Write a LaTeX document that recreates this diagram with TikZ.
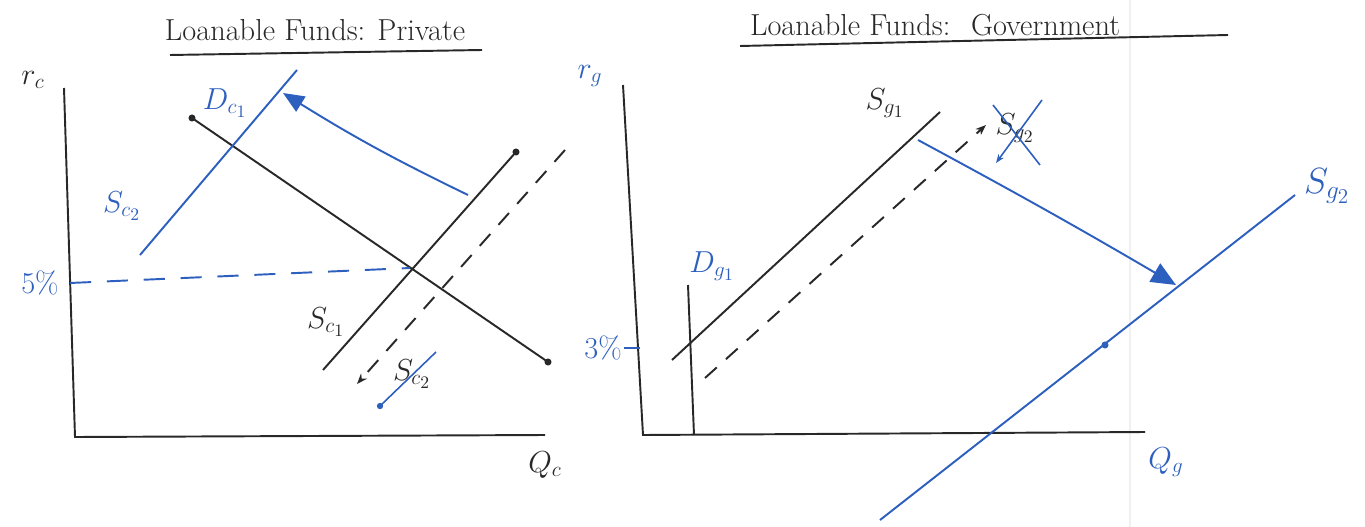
\documentclass[tikz,border=0pt]{standalone}
\usetikzlibrary{arrows.meta}
\definecolor{pen}{RGB}{45,95,190}
\definecolor{ink}{RGB}{40,40,40}
\begin{document}
\begin{tikzpicture}[x=0.02cm,y=-0.02cm,
  blk/.style={draw=ink,line width=1.1pt},
  blu/.style={draw=pen,line width=1.1pt},
  dsh/.style={draw=ink,line width=1.1pt,dash pattern=on 9pt off 7pt},
  lab/.style={inner sep=1pt,font=\LARGE},
  blab/.style={inner sep=1pt,font=\LARGE,text=pen},
  ttl/.style={inner sep=1pt,font=\LARGE,text=ink}]
\useasboundingbox (0,0) rectangle (1365,527);
\fill[white] (0,0) rectangle (1365,527);
\draw[black!6,line width=0.6pt] (1130,0) -- (1130,527);
% ---------- left ----------
\node[ttl] (t1) at (315,30) {Loanable Funds: Private};
\coordinate (u1a) at (170,55); \coordinate (u1b) at (482,50);
\draw[blk] (u1a) -- (u1b);
\node[lab,text=ink] (rc) at (33,80) {$r_c$};
\coordinate (ya) at (64,88); \coordinate (o1) at (75,437); \coordinate (xa) at (545,435);
\draw[blk] (ya) -- (o1) -- (xa);
\node[lab,text=ink] (qc) at (545,465) {$Q_c$};
\coordinate (d1a) at (192,118); \coordinate (d1b) at (548,362);
\draw[blk] (d1a) -- (d1b);
\fill[ink] (d1a) circle (2pt); \fill[ink] (d1b) circle (2pt);
\coordinate (s2a) at (140,255); \coordinate (s2b) at (297,70);
\draw[blu] (s2a) -- (s2b);
\node[blab] (ls2) at (122,206) {$S_{c_2}$};
\node[blab] (ld1) at (225,103) {$D_{c_1}$};
\coordinate (ar1a) at (468,195); \coordinate (ar1b) at (283,93);
\draw[blu,-{Triangle[length=12pt,width=10pt]}] (ar1a) to[bend left=3] (ar1b);
\node[blab] (p5) at (40,283) {5\%};
\coordinate (h5a) at (70,283); \coordinate (h5b) at (410,268);
\draw[blu,dash pattern=on 12pt off 9pt] (h5a) -- (h5b);
\coordinate (s1a) at (323,370); \coordinate (s1b) at (516,152);
\draw[blk] (s1a) -- (s1b);
\fill[ink] (s1b) circle (2pt);
\node[lab,text=ink] (ls1) at (326,322) {$S_{c_1}$};
\coordinate (dl1a) at (565,150); \coordinate (dl1b) at (357,384);
\draw[dsh,-{Stealth[length=6pt]}] (dl1a) -- (dl1b);
\node[lab,text=ink] (lx2) at (412,374) {$S_{c_2}$};
\coordinate (xc1) at (380,406); \coordinate (xc2) at (436,352);
\draw[draw=pen,line width=0.9pt] (xc1) -- (xc2);
\fill[pen] (xc1) circle (1.8pt);
% ---------- right ----------
\node[ttl] (t2) at (935,25) {Loanable Funds:\; Government};
\coordinate (u2a) at (740,46); \coordinate (u2b) at (1228,35);
\draw[blk] (u2a) -- (u2b);
\node[blab] (rg) at (590,76) {$r_g$};
\coordinate (yb) at (623,85); \coordinate (o2) at (643,435); \coordinate (xb) at (1145,432);
\draw[blk] (yb) -- (o2) -- (xb);
\node[blab] (qg) at (1166,462) {$Q_g$};
\coordinate (dga) at (688,285); \coordinate (dgb) at (694,435);
\draw[blk] (dga) -- (dgb);
\node[blab] (ldg) at (712,266) {$D_{g_1}$};
\node[blab] (p3) at (603,348) {3\%};
\coordinate (t3a) at (624,348); \coordinate (t3b) at (640,348);
\draw[blu] (t3a) -- (t3b);
\coordinate (sg1a) at (672,360); \coordinate (sg1b) at (940,112);
\draw[blk] (sg1a) -- (sg1b);
\node[lab,text=ink] (lsg1) at (885,103) {$S_{g_1}$};
\coordinate (dg2a) at (705,378); \coordinate (dg2b) at (986,125);
\draw[dsh,-{Stealth[length=6pt]}] (dg2a) -- (dg2b);
\node[lab,text=ink] (lsg2x) at (1015,128) {$S_{g_2}$};
\coordinate (xa1) at (993,105); \coordinate (xa2) at (1040,165);
\coordinate (xb1) at (1042,100); \coordinate (xb2) at (996,163);
\draw[draw=pen,line width=0.9pt] (xa1) -- (xa2);
\draw[draw=pen,line width=0.9pt,-{Stealth[length=5pt]}] (xb1) -- (xb2);
\coordinate (ar2a) at (918,140); \coordinate (ar2b) at (1176,285);
\draw[blu,-{Triangle[length=14pt,width=12pt]}] (ar2a) to[bend left=1] (ar2b);
\coordinate (sg2a) at (880,520); \coordinate (sg2b) at (1295,195);
\draw[blu] (sg2a) -- (sg2b);
\fill[pen] (1105,345) circle (2pt);
\node[blab,font=\huge] (lsg2) at (1327,186) {$S_{g_2}$};
\end{tikzpicture}
\end{document}
